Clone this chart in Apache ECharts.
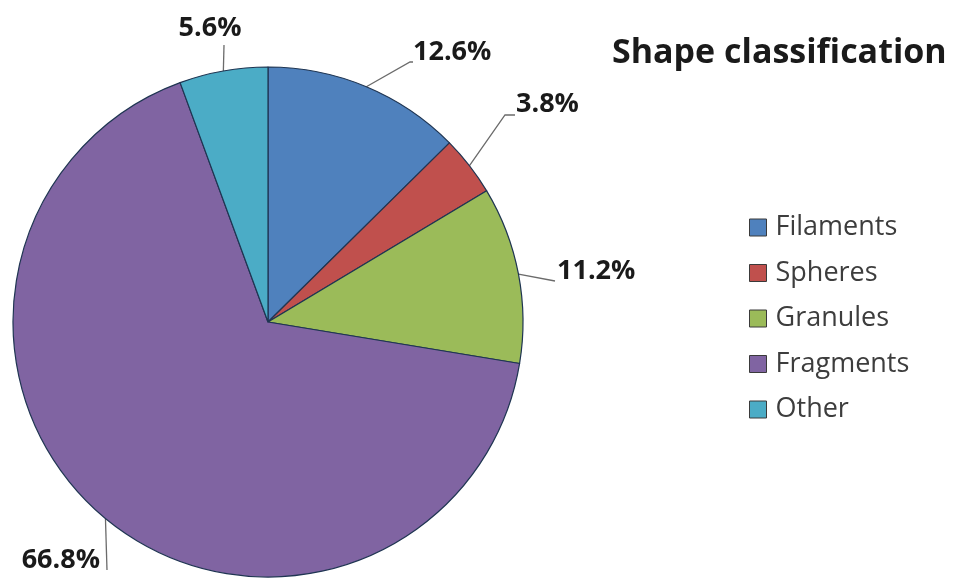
<!DOCTYPE html>
<html><head><meta charset="utf-8">
<script src="https://cdn.jsdelivr.net/npm/echarts@6/dist/echarts.min.js"></script>
<style>html,body{margin:0;padding:0;background:#fff}#c{width:959px;height:578px}</style>
</head><body><div id="c"></div>
<script>
const categories = ['Filaments', 'Spheres', 'Granules', 'Fragments', 'Other'];
const values = [12.6, 3.8, 11.2, 66.8, 5.6];
const colors = ['#4f81bd', '#c0504d', '#9bbb59', '#8064a2', '#4bacc6'];
// label leader-line bend/end points and label anchors (layout only)
const leaderBends = [[410, 62], [505, 115], [555, 281], [107, 570], [224, 45]];
const leaderEnds = [[413, 62], [515, 115], [555, 281], [107, 570], [224, 45]];
const labelAnchors = [[413, 52, 'left'], [516, 104, 'left'], [557, 271, 'left'], [100, 560, 'right'], [210, 28, 'center']];

const chart = echarts.init(document.getElementById('c'), null, {renderer: 'canvas'});
chart.setOption({
  animation: false,
  title: {
    text: 'Shape classification', left: 607, top: 31,
    textStyle: {fontFamily: 'Open Sans', fontWeight: 'bold', fontSize: 34, color: '#1a1a1a'}
  },
  legend: {
    orient: 'vertical', left: 744, top: 209, itemWidth: 17, itemHeight: 17, itemGap: 18.5, padding: 5,
    data: categories, icon: 'rect',
    itemStyle: {borderColor: '#3a3a3a', borderWidth: 1},
    textStyle: {fontFamily: 'Open Sans', fontSize: 27, color: '#3d3d3d', padding: [0, 0, 0, 4]}
  },
  series: [{
    type: 'pie', center: [268, 322], radius: 255, startAngle: 90, clockwise: true,
    data: categories.map((c, i) => ({name: c, value: values[i], itemStyle: {color: colors[i]}})),
    itemStyle: {borderColor: '#1f3552', borderWidth: 1.2},
    label: {
      show: true, formatter: p => p.value.toFixed(1) + '%', overflow: 'none', edgeDistance: 0,
      fontFamily: 'Open Sans', fontWeight: 'bold', fontSize: 27, color: '#1a1a1a'
    },
    labelLine: {show: true, length: 20, length2: 10, smooth: false, lineStyle: {color: '#6b6b6b', width: 1.3}},
    labelLayout: function (params) {
      const i = params.dataIndex;
      const a = labelAnchors[i];
      const start = params.labelLinePoints ? params.labelLinePoints[0] : null;
      const res = {x: a[0], y: a[1], align: a[2], verticalAlign: 'middle'};
      if (start) res.labelLinePoints = [start, leaderBends[i], leaderEnds[i]];
      return res;
    }
  }]
});
</script></body></html>
